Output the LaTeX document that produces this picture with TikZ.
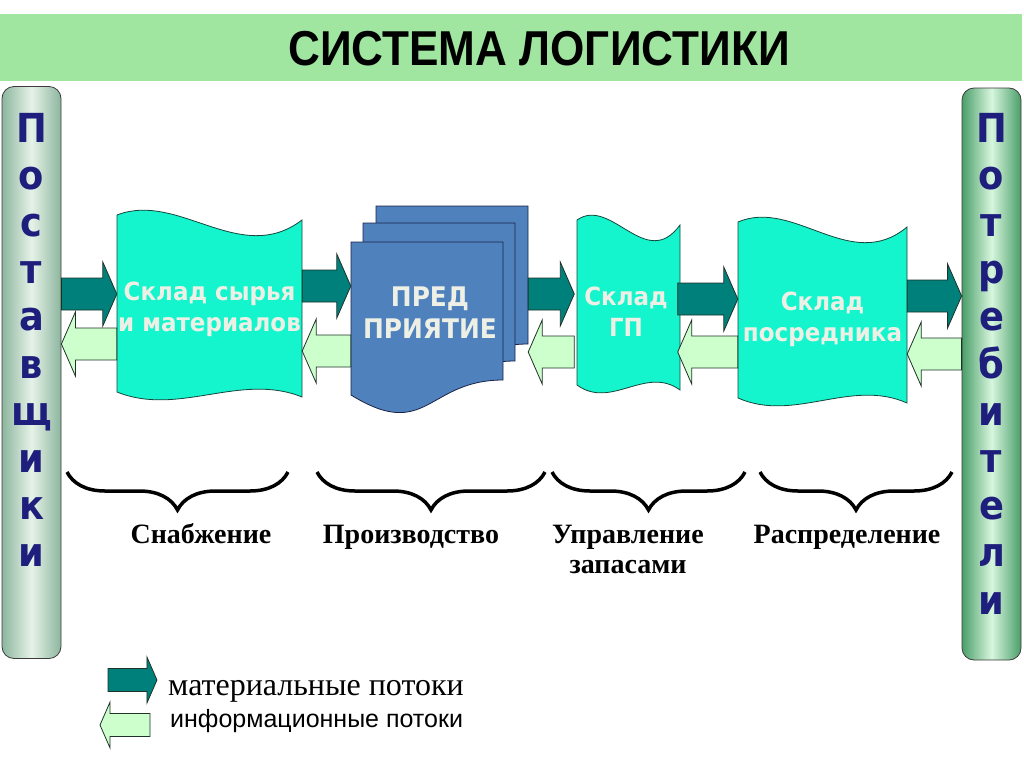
\documentclass[tikz,border=0pt]{standalone}
\usepackage{fontspec}
\setmainfont{Liberation Serif}
\newfontfamily\arialfont{Liberation Sans}
\newfontfamily\titlefont{Liberation Sans}[FakeStretch=0.9]
\newfontfamily\verdanafont{DejaVu Sans}[FakeStretch=0.92]
\usepackage{tikz}
\usetikzlibrary{calc,decorations.pathreplacing}
\definecolor{TitleBand}{RGB}{160,230,160}
\definecolor{PillarLine}{RGB}{60,60,60}
\definecolor{SupplierEdge}{RGB}{140,182,158}
\definecolor{SupplierCore}{RGB}{230,242,232}
\definecolor{ConsumerEdge}{RGB}{75,158,105}
\definecolor{ConsumerCore}{RGB}{215,246,222}
\definecolor{PillarText}{RGB}{30,30,125}
\definecolor{StoreFill}{RGB}{20,245,205}
\definecolor{StoreLine}{RGB}{20,70,60}
\definecolor{StoreText}{RGB}{238,240,230}
\definecolor{FirmFill}{RGB}{79,129,189}
\definecolor{FirmLine}{RGB}{25,35,70}
\definecolor{FlowMaterial}{RGB}{0,128,122}
\definecolor{FlowInformation}{RGB}{204,255,204}
\definecolor{FlowLine}{RGB}{30,50,40}
\tikzset{
	band/.style={fill=TitleBand, minimum width=1022pt, minimum height=67pt, inner sep=0pt},
	titletext/.style={font=\titlefont\bfseries\fontsize{49}{49}\selectfont, inner sep=0pt},
	pillar/.style={draw=PillarLine, line width=0.8pt, rounded corners=12pt, minimum width=59pt, minimum height=572pt, inner sep=0pt},
	pillarletter/.style={anchor=base, text=PillarText, font=\verdanafont\bfseries\fontsize{40}{40}\selectfont, inner sep=0pt},
	store/.style={fill=StoreFill, draw=StoreLine, line width=0.8pt},
	storetext/.style={align=center, text=StoreText, font=\verdanafont\bfseries\fontsize{25}{31}\selectfont, inner sep=0pt},
	firmdoc/.style={fill=FirmFill, draw=FirmLine, line width=0.8pt},
	firmtext/.style={align=center, text=StoreText, font=\verdanafont\bfseries\fontsize{27}{32}\selectfont, inner sep=0pt},
	matflow/.style={fill=FlowMaterial, draw=FlowLine, line width=0.8pt},
	infoflow/.style={fill=FlowInformation, draw=FlowLine, line width=0.8pt},
	stagebrace/.style={decorate, decoration={brace, mirror, amplitude=38pt}, line width=3.5pt},
	stagelabel/.style={align=center, font=\bfseries\fontsize{28}{30}\selectfont, inner sep=0pt},
	legendtext/.style={anchor=base west, inner sep=0pt}
}
\newcommand{\storepath}[4]{%
	\path[store] ({#1},{#3}) .. controls ({#1+(#2-#1)/3},{#3-24}) and ({#1+2*(#2-#1)/3},{#3+52}) .. ({#2},{#3+5})
		-- ({#2},{#4+5}) .. controls ({#1+2*(#2-#1)/3},{#4-20}) and ({#1+(#2-#1)/3},{#4+25}) .. ({#1},{#4}) -- cycle;}
\newcommand{\firmpath}[2]{%
	\path[firmdoc] ({#1},{#2}) -- ({#1+152},{#2}) -- ({#1+152},{#2+138})
		.. controls ({#1+76},{#2+138}) and ({#1+76},{#2+200}) .. ({#1},{#2+153}) -- cycle;}
\newcommand{\flow}[5]{%
	\path[#1] let \p1=(#2), \p2=(#3), \p3=(0,#4), \n1={sign(\x2-\x1)*14*#5}, \n2={16*#5}, \n3={32*#5} in
		({\x1},{\y3+\n2}) -- ({\x2-(\n1)},{\y3+\n2}) -- ({\x2-(\n1)},{\y3+\n3}) -- ({\x2},{\y3})
		-- ({\x2-(\n1)},{\y3-\n3}) -- ({\x2-(\n1)},{\y3-\n2}) -- ({\x1},{\y3-\n2}) -- cycle;}
\begin{document}
\begin{tikzpicture}[x=1pt,y=-1pt]
	\useasboundingbox (0,0) rectangle (1024,768);
	\node[band] (band) at (511,47.5) {};
	\node[titletext] (title) at (539,49) {СИСТЕМА ЛОГИСТИКИ};

	\node[pillar, left color=SupplierEdge, right color=SupplierEdge, middle color=SupplierCore] (suppliers) at (31.5,372.5) {};
	\node[pillar, left color=ConsumerEdge, right color=ConsumerEdge, middle color=ConsumerCore] (consumers) at (991.5,374) {};
	\foreach \ch [count=\i] in {П,о,с,т,а,в,щ,и,к,и}
		\node[pillarletter] (sup\i) at (31.5,{142+47.2*(\i-1)}) {\ch};
	\foreach \ch [count=\i] in {П,о,т,р,е,б,и,т,е,л,и}
		\node[pillarletter] (con\i) at (991.5,{142+47.2*(\i-1)}) {\ch};

	\storepath{117}{302}{215}{392}
	\node[storetext, minimum width=185pt] (raw) at (209.5,309) {Склад сырья\\и материалов};
	\firmpath{376}{206}
	\firmpath{363}{223}
	\firmpath{351}{242}
	\node[minimum width=177pt, minimum height=190pt, inner sep=0pt] (firm) at (439.5,300) {};
	\node[firmtext] (firmname) at (430,313) {ПРЕД\\ПРИЯТИЕ};
	\storepath{577}{680}{220}{385}
	\node[storetext, minimum width=103pt] (stockfg) at (626,312) {Склад\\ГП};
	\storepath{738}{907}{222}{398}
	\node[storetext, minimum width=169pt] (dealer) at (822.5,319) {Склад\\посредника};

	\flow{matflow}{suppliers.east}{raw.west}{294}{1}
	\flow{infoflow}{raw.west}{suppliers.east}{344}{1}
	\flow{matflow}{raw.east}{firm.west}{286}{1}
	\flow{infoflow}{firm.west}{raw.east}{351}{1}
	\flow{matflow}{firm.east}{stockfg.west}{294}{1}
	\flow{infoflow}{stockfg.west}{firm.east}{352}{1}
	\flow{matflow}{stockfg.east}{dealer.west}{299}{1}
	\flow{infoflow}{dealer.west}{stockfg.east}{352}{1}
	\flow{matflow}{dealer.east}{consumers.west}{296}{1}
	\flow{infoflow}{consumers.west}{dealer.east}{354}{1}

	\draw[stagebrace] (67,472) -- (288,472);
	\draw[stagebrace] (317,472) -- (545,472);
	\draw[stagebrace] (552,472) -- (745,472);
	\draw[stagebrace] (760,472) -- (952,472);
	\node[stagelabel, anchor=base] (supply) at (201,543) {Снабжение};
	\node[stagelabel, anchor=base] (production) at (411,543) {Производство};
	\node[stagelabel] (inventory) at (628,549) {Управление\\запасами};
	\node[stagelabel, anchor=base] (distribution) at (847,543) {Распределение};

	\coordinate (legmatA) at (108,680);
	\coordinate (legmatB) at (157,680);
	\coordinate (leginfoA) at (150,725);
	\coordinate (leginfoB) at (100,725);
	\flow{matflow}{legmatA}{legmatB}{680}{0.72}
	\flow{infoflow}{leginfoA}{leginfoB}{725}{0.72}
	\node[legendtext, font=\fontsize{32}{32}\selectfont] (legmat) at (168,695) {материальные потоки};
	\node[legendtext, font=\arialfont\fontsize{25}{25}\selectfont] (leginfo) at (170,727) {информационные потоки};
\end{tikzpicture}
\end{document}
